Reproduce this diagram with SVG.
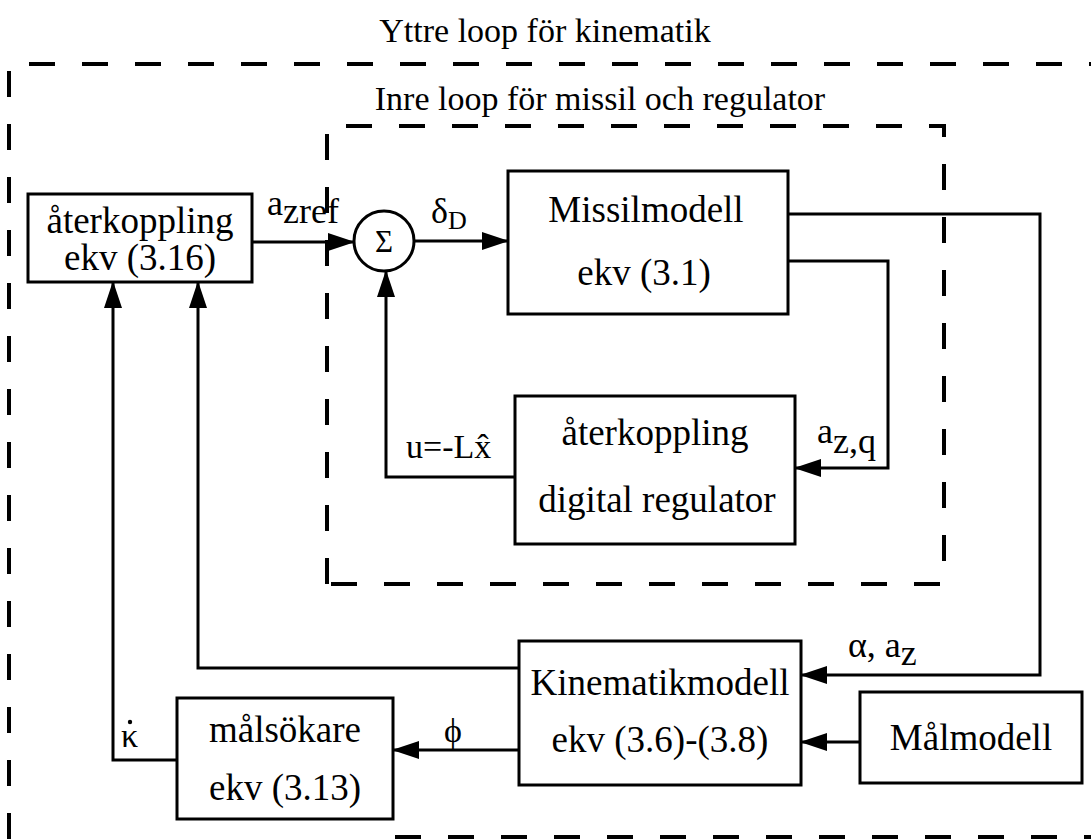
<svg xmlns="http://www.w3.org/2000/svg" width="1091" height="839" viewBox="0 0 1091 839">
  <style>
    .t { font-family: "Liberation Serif", "Times New Roman", serif; fill: #000; }
    .box { fill: none; stroke: #000; stroke-width: 3; }
    .dash { fill: none; stroke: #000; stroke-width: 4; stroke-dasharray: 26 27; }
    .wire { fill: none; stroke: #000; stroke-width: 3; }
    .arrow { marker-end: url(#head); }
  </style>
  <defs>
    <marker id="head" markerUnits="userSpaceOnUse" markerWidth="27" markerHeight="18" refX="26" refY="9" orient="auto">
      <path d="M0,0 L27,9 L0,18 Z" fill="#000"/>
    </marker>
  </defs>
  <rect width="1091" height="839" fill="#fff"/>

  <!-- loop frames -->
  <g id="outer-loop">
    <path class="dash" d="M9,839 V64 H1091"/>
    <path class="dash" d="M395,837 H1091"/>
    <text class="t" x="545" y="42" font-size="34" text-anchor="middle">Yttre loop för kinematik</text>
  </g>
  <g id="inner-loop">
    <path class="dash" d="M327,584 V126 H944 V584 Z"/>
    <text class="t" x="600" y="110" font-size="34" text-anchor="middle">Inre loop för missil och regulator</text>
  </g>

  <!-- connectors -->
  <g id="connectors">
    <path class="wire arrow" d="M252,242 H354"/>
    <path class="wire arrow" d="M414,241 H508"/>
    <path class="wire arrow" d="M788,214 H1040 V675 H801"/>
    <path class="wire arrow" d="M788,261 H888 V468 H795"/>
    <path class="wire arrow" d="M515,477 H386 V271"/>
    <path class="wire arrow" d="M519,668 H198 V282"/>
    <path class="wire arrow" d="M177,760 H113 V282"/>
    <path class="wire arrow" d="M519,750 H393"/>
    <path class="wire arrow" d="M860,742 H801"/>
    <!-- signal labels -->
    <text class="t" font-size="36"><tspan x="267" y="215">a</tspan><tspan y="223">zref</tspan></text>
    <text class="t" font-size="36"><tspan x="431" y="223">δ</tspan><tspan font-size="26" y="229">D</tspan></text>
    <text class="t" font-size="34" x="406" y="458">u=-Lx̂</text>
    <text class="t" font-size="36"><tspan x="817" y="443">a</tspan><tspan y="453">z,q</tspan></text>
    <text class="t" font-size="36"><tspan x="848" y="657">α, a</tspan><tspan y="665">z</tspan></text>
    <text class="t" font-size="34" x="444" y="742">ϕ</text>
    <text class="t" font-size="34" x="121" y="747">κ</text>
    <circle cx="130" cy="722" r="2.2" fill="#000"/>
  </g>

  <g id="sum">
    <circle class="box" cx="384" cy="241" r="30"/>
    <text class="t" x="384" y="252" font-size="31" text-anchor="middle">Σ</text>
  </g>

  <g id="feedback-outer">
    <rect class="box" x="28" y="194" width="224" height="88"/>
    <text class="t" x="140" y="233" font-size="37" text-anchor="middle">återkoppling</text>
    <text class="t" x="140" y="270" font-size="37" text-anchor="middle">ekv (3.16)</text>
  </g>

  <g id="missile-model">
    <rect class="box" x="508" y="171" width="280" height="143"/>
    <text class="t" x="646" y="222" font-size="37" text-anchor="middle">Missilmodell</text>
    <text class="t" x="644" y="285" font-size="37" text-anchor="middle">ekv (3.1)</text>
  </g>

  <g id="digital-regulator">
    <rect class="box" x="515" y="396" width="280" height="148"/>
    <text class="t" x="655" y="445" font-size="37" text-anchor="middle">återkoppling</text>
    <text class="t" x="657" y="512" font-size="37" text-anchor="middle">digital regulator</text>
  </g>

  <g id="kinematics-model">
    <rect class="box" x="519" y="641" width="282" height="144"/>
    <text class="t" x="660" y="695" font-size="37" text-anchor="middle">Kinematikmodell</text>
    <text class="t" x="660" y="752" font-size="37" text-anchor="middle">ekv (3.6)-(3.8)</text>
  </g>

  <g id="target-model">
    <rect class="box" x="860" y="692" width="222" height="91"/>
    <text class="t" x="971" y="750" font-size="37" text-anchor="middle">Målmodell</text>
  </g>

  <g id="seeker">
    <rect class="box" x="177" y="698" width="216" height="121"/>
    <text class="t" x="285" y="742" font-size="37" text-anchor="middle">målsökare</text>
    <text class="t" x="285" y="800" font-size="37" text-anchor="middle">ekv (3.13)</text>
  </g>
</svg>
